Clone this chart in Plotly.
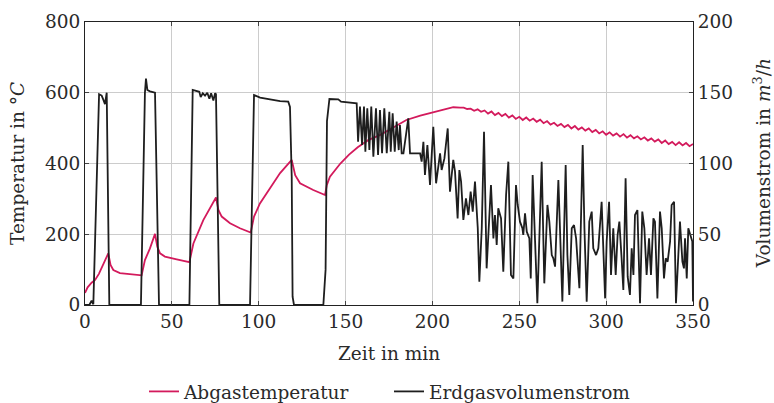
import plotly.graph_objects as go

# ---- Abgastemperatur (deg C, left axis) ----
temp_t = [0, 1.5, 3.8, 5.8, 8, 9.6, 12, 13.4, 14.7, 16.3, 20.1, 25.9, 32.6,
          34.5, 37.4, 40.3, 41.6, 43.2, 46, 52.8, 60.1,
          62.4, 68.1, 75.4, 76.8, 78.7, 83.5, 89.2, 95.4,
          97.3, 100.7, 106.5, 112.3, 119, 121, 123.8, 131.4, 138.2,
          139.2, 141, 147, 152, 157, 163, 170, 178, 185, 193, 200.5, 206, 212, 216,
          218, 220, 222, 224, 226, 228, 230, 232, 234, 236, 238, 240, 242, 244, 246, 248,
          250, 252, 254, 256, 258, 260, 262, 264, 266, 268, 270, 272, 274, 276, 278, 280,
          282, 284, 286, 288, 290, 292, 294, 296, 298, 300, 302, 304, 306, 308, 310, 312,
          314, 316, 318, 320, 322, 324, 326, 328, 330, 332, 334, 336, 338, 340, 342, 344,
          346, 348, 350]
temp_v = [34, 50, 63, 71, 88, 104, 128, 146, 113, 99, 90, 88, 84,
          127, 160, 201, 165, 146, 137, 129, 121,
          174, 240, 304, 269, 250, 231, 217, 205,
          250, 287, 330, 373, 410, 367, 344, 325, 311,
          339, 363, 400, 425, 446, 466, 481, 503, 523, 535, 545, 553, 559, 558,
          558, 554, 555, 549, 553, 546, 550, 541, 547, 537, 543, 534, 540, 530, 536, 526,
          532, 523, 530, 521, 527, 518, 524, 514, 520, 510, 515, 506, 512, 503, 509, 499,
          506, 496, 502, 493, 499, 489, 495, 485, 491, 481, 488, 479, 485, 476, 483, 473,
          480, 471, 477, 468, 474, 465, 471, 462, 468, 458, 465, 455, 461, 452, 460, 451,
          458, 449, 455]

# ---- Erdgasvolumenstrom (m3/h, right axis) ----
gas_t = [0, 2.5, 3.8, 4.8, 8.1, 9.6, 10.6, 11.5, 12.5, 14.0,
         32.2, 34.5, 35.1, 35.9, 37.4, 40.3, 42.6,
         60.1, 62.0, 63.3, 65.8, 66.6, 67.8, 69.1, 70.4, 71.6, 72.6, 73.9, 74.9, 75.4, 77.3,
         95.0, 97.3, 100.8, 112.3, 117.0, 118.0, 119.0, 119.5, 120.3,
         137.2, 138.5, 139.3, 140.7, 145.8, 147.4, 156.4,
         157.2, 158.3, 159.5, 160.6, 161.4, 162.5, 163.7, 164.8, 166.0, 167.5, 168.7, 169.8,
         171.0, 172.3, 173.7, 175.2, 176.0, 177.1, 178.3, 179.4, 180.6, 181.3, 182.3, 183.3,
         186.1, 187.1, 192.9, 193.8, 194.8, 195.7, 197.1, 198.6, 200.5, 202.1,
         204.4, 205.3, 206.9, 208.8, 210.1, 212.0, 213.0, 214.5, 215.5, 216.5, 217.8, 219.3,
         220.7, 222.0, 223.2, 224.5, 226.1, 227.0, 228.4, 229.7, 231.2, 232.6, 233.7, 235.1,
         236.0, 237.0, 237.9, 239.5, 240.8, 242.4, 243.7, 245.2, 246.6, 248.1, 249.1, 250.4,
         251.8, 252.3, 253.3, 254.3, 255.8, 256.6, 257.7, 259.1, 260.4, 261.6, 262.9, 264.4,
         266.2, 267.3, 268.7, 269.6, 270.6, 272.5, 273.4, 274.8, 276.7, 277.7, 278.8, 280.2,
         281.5, 282.7, 284.6, 286.5, 287.5, 288.8, 290.3, 291.7, 292.6, 294.2, 295.5, 296.5,
         297.4, 299.4, 300.3, 301.7, 302.8, 304.1, 305.5, 306.6, 307.6, 308.9, 309.9, 311.2,
         312.4, 313.7, 314.7, 315.7, 316.6, 318.0, 319.5, 320.8, 322.0, 323.3, 324.7, 325.8,
         327.2, 328.1, 329.5, 331.0, 332.0, 333.3, 334.3, 335.4, 336.8, 337.7, 339.1, 340.2,
         341.6, 342.5, 343.9, 344.8, 345.4, 346.4, 347.3, 348.5, 349.6, 350.0]
gas_v = [0, 0, 3, 0.5, 149, 148, 145, 142, 150, 0,
         0, 150, 160, 152, 151, 150, 0,
         0, 152, 151.5, 150.7, 146.9, 149.6, 148, 150, 145.7, 149.6, 144.5, 149.6, 149, 0,
         0, 148.4, 146.6, 144.1, 143.7, 140, 90.7, 5.9, 0,
         0, 25, 130, 145.6, 145.3, 143.7, 142.5,
         115.4, 140.2, 113.1, 140.2, 108.4, 139.0, 109.5, 140.2, 104.8, 139.0, 106.0, 137.8,
         107.2, 139.0, 107.2, 136.6, 108.4, 135.4, 108.4, 129.6, 109.5, 127.2, 107.2, 107.2,
         131.9, 107.2, 107.2, 101.3, 115.4, 91.9, 113.1, 84.8, 126.0, 86.0,
         107.2, 95.4, 103.6, 124.8, 80.1, 102.5, 94.2, 61.2, 95.4, 87.2, 60.1, 75.4,
         63.6, 80.1, 66.0, 87.2, 54.2, 16.5, 54.2, 122.5, 25.9, 61.2, 84.8, 47.1,
         63.6, 42.4, 68.3, 61.2, 23.6, 77.7, 101.3, 21.2, 18.8, 84.8, 70.7, 58.9,
         54.2, 49.5, 64.8, 51.8, 47.1, 18.8, 91.9, 44.8, 1.2, 49.5, 101.3, 15.3,
         70.7, 58.9, 35.3, 33.0, 27.1, 88.3, 54.2, 2.4, 98.9, 35.3, 7.1, 54.2,
         56.5, 47.1, 11.8, 113.1, 54.2, 2.4, 58.9, 66.0, 40.0, 35.3, 40.0, 58.9,
         73.0, 4.7, 44.8, 73.0, 21.2, 54.2, 21.2, 49.5, 58.9, 33.0, 10.6, 89.5,
         20.0, 7.1, 40.0, 21.2, 63.6, 67.1, 1.2, 66.0, 54.2, 21.2, 47.1, 21.2,
         61.2, 58.9, 4.7, 66.0, 54.2, 18.8, 33.0, 30.6, 44.8, 70.7, 73.0, 1.2,
         35.3, 58.9, 30.6, 25.9, 47.1, 18.8, 54.2, 49.5, 44.8, 2.4]

x_ticks = [0, 50, 100, 150, 200, 250, 300, 350]
y_ticks = [0, 200, 400, 600, 800]
y2_ticks = [0, 50, 100, 150, 200]

FONT = "DejaVu Serif"
FS = 18.5
RED = "#d31a5c"
BLACK = "#1e1e1e"
GRID = "#cccccc"
TXT = "#2a2a2a"

fig = go.Figure()
fig.add_trace(go.Scatter(x=temp_t, y=temp_v, mode="lines", name="Abgastemperatur",
                         line=dict(color=RED, width=1.8), yaxis="y"))
fig.add_trace(go.Scatter(x=gas_t, y=gas_v, mode="lines", name="Erdgasvolumenstrom",
                         line=dict(color=BLACK, width=1.8), yaxis="y2"))

axis_common = dict(showline=True, linecolor="#222", linewidth=1.2, ticks="inside",
                   ticklen=4, tickcolor="#444", zeroline=False, automargin=False,
                   tickfont=dict(family=FONT, size=FS, color=TXT))
tfont = dict(family=FONT, size=FS, color=TXT)

fig.update_layout(
    width=774, height=403,
    margin=dict(l=85, r=81, t=22, b=98, autoexpand=False),
    paper_bgcolor="white", plot_bgcolor="white",
    font=dict(family=FONT, size=FS, color=TXT),
    xaxis=dict(range=[0, 350], tickvals=x_ticks, showgrid=True, gridcolor=GRID,
               gridwidth=1, mirror="ticks",
               title=dict(text="Zeit in min", font=tfont, standoff=15),
               **axis_common),
    yaxis=dict(range=[0, 800], tickvals=y_ticks, showgrid=True, gridcolor=GRID,
               gridwidth=1, **axis_common),
    yaxis2=dict(range=[0, 200], tickvals=y2_ticks, overlaying="y", side="right",
                showgrid=False, **axis_common),
    legend=dict(orientation="h", x=0.5, xanchor="center", y=-0.307, yanchor="middle",
                font=tfont, bgcolor="rgba(0,0,0,0)", itemwidth=30, tracegroupgap=0,
                entrywidth=200, entrywidthmode="pixels"),
    showlegend=True,
    annotations=[
        dict(text="Temperatur in °<i>C</i>", xref="paper", yref="paper",
             x=-0.111, y=0.5, xanchor="center", yanchor="middle", textangle=-90,
             showarrow=False, font=tfont),
        dict(text="Volumenstrom in <i>m</i><sup>3</sup>/<i>h</i>", xref="paper",
             yref="paper", x=1.113, y=0.5, xanchor="center", yanchor="middle",
             textangle=-90, showarrow=False, font=tfont),
    ],
)

fig.write_html("out.html")
